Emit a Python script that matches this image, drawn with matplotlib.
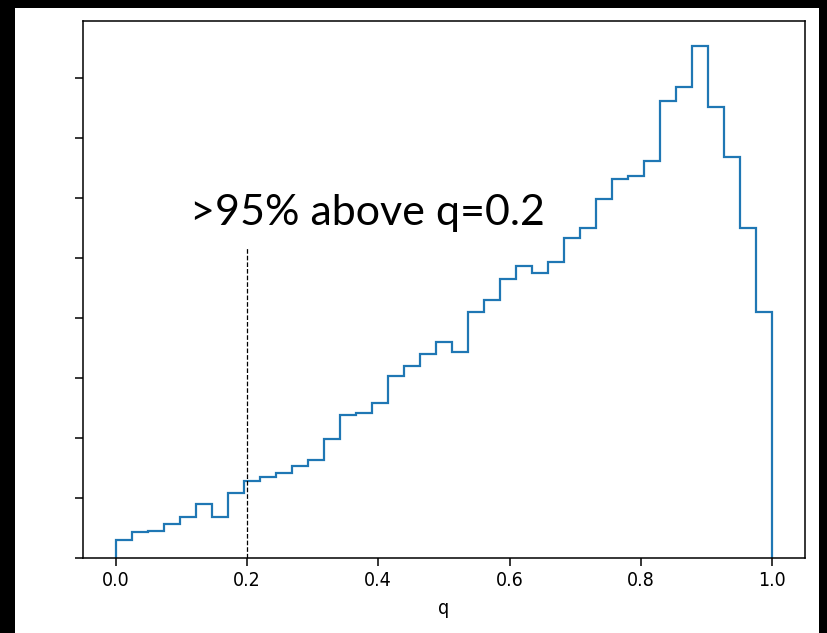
import numpy as np
import matplotlib
matplotlib.use("Agg")
import matplotlib.pyplot as plt
from matplotlib.patches import Rectangle

# histogram bin heights (in y-tick units), 41 equal bins over q in [0, 1]
n_bins = 41
heights = [0.29, 0.42, 0.44, 0.56, 0.68, 0.89, 0.67, 1.07, 1.28, 1.35,
           1.41, 1.52, 1.63, 1.98, 2.38, 2.41, 2.57, 3.03, 3.19, 3.40,
           3.60, 3.42, 4.10, 4.30, 4.65, 4.86, 4.75, 4.93, 5.33, 5.49,
           5.98, 6.31, 6.36, 6.61, 7.61, 7.85, 8.53, 7.51, 6.68, 5.49,
           4.10]
xticks = [0.0, 0.2, 0.4, 0.6, 0.8, 1.0]
xtick_labels = ["0.0", "0.2", "0.4", "0.6", "0.8", "1.0"]
yticks = [0, 1, 2, 3, 4, 5, 6, 7, 8]
threshold = 0.2
threshold_top = 5.17
annotation = ">95% above q=0.2"
xlabel = "q"

W, H = 827, 633
fig = plt.figure(figsize=(W / 100, H / 100), dpi=100, facecolor="black")
fig.patches.append(Rectangle((15 / W, 0), (819 - 15) / W, (H - 8) / H,
                             transform=fig.transFigure, facecolor="white",
                             edgecolor="none", zorder=-10))

ax = fig.add_axes([82.7 / W, (H - 557.5) / H, (805 - 82.7) / W, (557.5 - 20.7) / H])
ax.set_zorder(5)

edges = np.linspace(0, 1, n_bins + 1)
centers = (edges[:-1] + edges[1:]) / 2
ax.hist(centers, bins=edges, weights=heights, histtype="step",
        color="#1f77b4", lw=1.6)

ax.vlines(threshold, 0, threshold_top, colors="black", linestyles="--", lw=0.9)

ax.text(0.114, 5.54, annotation, fontsize=31, family="Lato",
        ha="left", va="baseline")

ax.set_xlim(-0.05, 1.05)
ax.set_ylim(0, 8.95)
ax.set_xticks(xticks)
ax.set_xticklabels(xtick_labels, fontsize=14, fontstretch="condensed")
ax.set_yticks(yticks)
ax.set_yticklabels([])
ax.tick_params(length=6, width=1.1, pad=4)
ax.set_xlabel(xlabel, fontsize=14, fontstretch="condensed", labelpad=6)
for s in ax.spines.values():
    s.set_linewidth(1.1)

fig.savefig("out.png", dpi=100, facecolor=fig.get_facecolor())
